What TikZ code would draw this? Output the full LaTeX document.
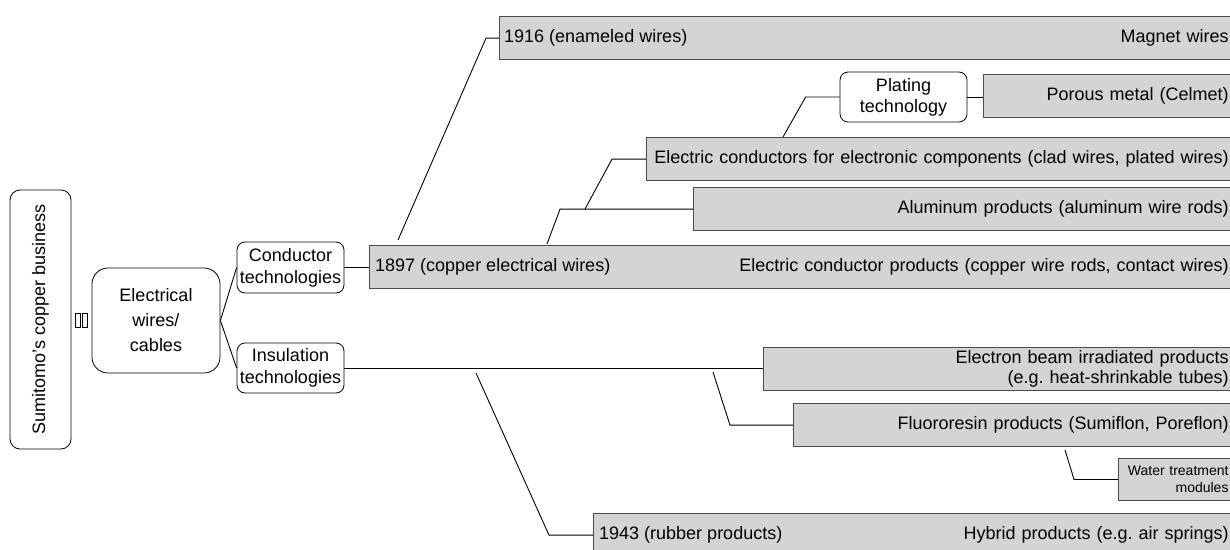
\documentclass[tikz,border=0pt]{standalone}
\usepackage{fontspec}
\setmainfont{Liberation Sans}
\usepackage{xcolor}
\frenchspacing

\definecolor{boxfill}{RGB}{211,212,214}
\definecolor{boxline}{RGB}{75,75,75}

\tikzset{
  prodbox/.style={draw=boxline, fill=boxfill, line width=1.3pt, anchor=north west,
    inner xsep=6pt, inner ysep=0pt, minimum height=43pt, align=right,
    font=\fontsize{18}{20}\selectfont},
  techbox/.style={draw=black, fill=white, rounded corners=8pt, line width=0.8pt,
    inner sep=0pt, align=center, font=\fontsize{18}{22}\selectfont},
  yeartext/.style={anchor=west, inner sep=0pt, font=\fontsize{18}{20}\selectfont},
  link/.style={draw=black, line width=0.9pt},
}

\begin{document}
\begin{tikzpicture}[x=1pt,y=-1pt]
  \useasboundingbox (0,0) rectangle (1230,549);
  \clip (0,0) rectangle (1230,549);

  %business
  \node[techbox, rotate=90, minimum width=259pt, minimum height=61pt, rounded corners=10pt] (sumitomo) at (40.5,319.5) {Sumitomo's copper business};
  \draw[line width=0.7pt] (75,313) rectangle (80,327);
  \draw[line width=0.7pt] (82,313) rectangle (87,327);
  \node[techbox, minimum width=128pt, minimum height=105pt, rounded corners=16pt, font=\fontsize{18}{25}\selectfont] (electrical) at (156,320.5) {Electrical\\wires/\\cables};

  %technologies
  \node[techbox, minimum width=107pt, minimum height=51pt] (conductor) at (290.5,267.5) {Conductor\\technologies};
  \node[techbox, minimum width=107pt, minimum height=50pt] (insulation) at (290.5,368) {Insulation\\technologies};
  \draw[link] (electrical.east) -- (conductor.west);
  \draw[link] (electrical.east) -- (insulation.west);

  %conductor products
  \node[prodbox, text width=723pt] (b1916) at (499,16) {Magnet wires};
  \node[yeartext] (yr1916) at ([xshift=5pt]b1916.west) {1916 (enameled wires)};
  \node[techbox, minimum width=127pt, minimum height=50pt, font=\fontsize{18}{21}\selectfont] (plating) at (903.5,97) {Plating\\technology};
  \node[prodbox, text width=239pt] (porous) at (983,74) {Porous metal (Celmet)};
  \node[prodbox, text width=576pt] (eleccomp) at (646,137) {Electric conductors for electronic components (clad wires, plated wires)};
  \node[prodbox, text width=529pt] (alum) at (693,187) {Aluminum products (aluminum wire rods)};
  \node[prodbox, text width=853pt] (b1897) at (369,245) {Electric conductor products (copper wire rods, contact wires)};
  \node[yeartext] (yr1897) at ([xshift=6pt]b1897.west) {1897 (copper electrical wires)};

  \coordinate (k1916) at (398,240);
  \coordinate (kelec) at (585,209);
  \coordinate (kplat) at (783,137);
  \coordinate (kalum) at (547,244);
  \draw[link] (conductor.east) -- (conductor.east -| b1897.west);
  \draw[link] (k1916) -- ([xshift=-13pt]b1916.west) -- (b1916.west);
  \draw[link] (kelec) -- ([xshift=-34pt]eleccomp.west) -- (eleccomp.west);
  \draw[link] (kplat) -- ([xshift=-34pt]plating.west) -- (plating.west);
  \draw[link] (plating.east) -- (plating.east -| porous.west);
  \draw[link] (kalum) -- ([xshift=-133pt]alum.west) -- (alum.west);

  %insulation products
  \node[prodbox, text width=459pt] (ebeam) at (763,347) {Electron beam irradiated products\\(e.g. heat-shrinkable tubes)};
  \node[prodbox, text width=429pt] (fluoro) at (793,403) {Fluororesin products (Sumiflon, Poreflon)};
  \node[prodbox, text width=104pt, minimum height=42pt, line width=1pt, font=\fontsize{14}{17}\selectfont] (water) at (1118,458) {Water treatment\\modules};
  \node[prodbox, text width=629pt] (b1943) at (593,513) {Hybrid products (e.g. air springs)};
  \node[yeartext] (yr1943) at ([xshift=6pt]b1943.west) {1943 (rubber products)};

  \coordinate (kfluoro) at (713,372);
  \coordinate (kwater) at (1065,450);
  \coordinate (krubber) at (476,373);
  \draw[link] (insulation.east) -- (insulation.east -| ebeam.west);
  \draw[link] (kfluoro) -- ([xshift=-63pt]fluoro.west) -- (fluoro.west);
  \draw[link] (kwater) -- ([xshift=-44pt]water.west) -- (water.west);
  \draw[link] (krubber) -- ([xshift=-44pt]b1943.west) -- (b1943.west);
\end{tikzpicture}
\end{document}
